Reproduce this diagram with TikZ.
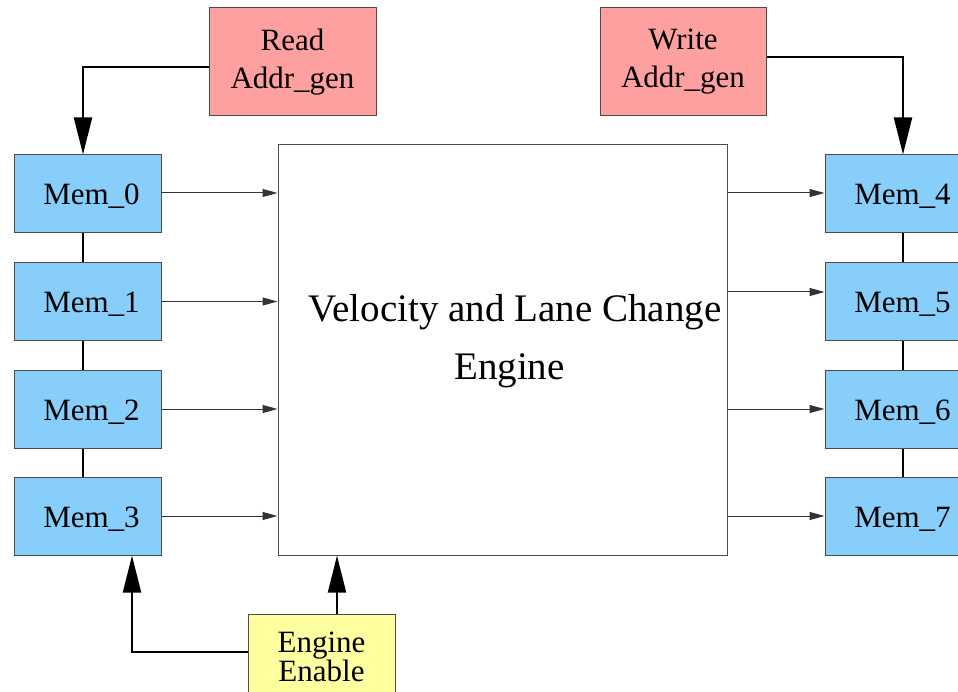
\documentclass[tikz,border=0pt]{standalone}
\usepackage{fontspec}
\setmainfont{Liberation Serif}
\usetikzlibrary{arrows.meta}
\definecolor{memblue}{RGB}{135,206,250}
\definecolor{addrred}{RGB}{255,160,160}
\definecolor{enyellow}{RGB}{255,255,160}
\tikzset{
  box/.style={draw=black!70, line width=1pt, rectangle, inner sep=0pt, align=center,
              font=\fontsize{31}{38}\selectfont},
  membox/.style={box, fill=memblue, minimum width=147pt, minimum height=78pt,
                 text height=26pt, text depth=4pt,
                 execute at begin node=\hspace*{8pt}},
  addrbox/.style={box, fill=addrred, minimum width=167pt, minimum height=108pt},
  enbox/.style={box, fill=enyellow, minimum width=147pt, minimum height=86pt,
                font=\fontsize{31}{29}\selectfont},
  bigarrow/.style={line width=2pt, -{Triangle[length=37pt,width=18pt]}},
  thinarrow/.style={line width=1pt, draw=black!80, -{Triangle[length=15pt,width=8pt]}},
  link/.style={line width=2pt},
}
\begin{document}
\begin{tikzpicture}[x=1pt,y=-1pt]
\useasboundingbox (0,0) rectangle (958,692);
\clip (0,0) rectangle (958,692);

% central engine
\node[draw=black!70, line width=1pt, rectangle, minimum width=449pt, minimum height=410pt, inner sep=0pt]
  (eng) at (502.5,350) {};
\node[font=\fontsize{39}{58}\selectfont, align=center, inner sep=0pt] (engtxt) at (515,341)
  {Velocity and Lane Change\\Engine\hspace*{11pt}};

% address generators
\node[addrbox] (rd) at (292.5,62) {Read\\Addr\_gen};
\node[addrbox, minimum width=166pt] (wr) at (683,62) {Write\\Addr\_gen};

% memories
\node[membox] (m0) at (87.5,194) {Mem\_0};
\node[membox] (m1) at (87.5,301.5) {Mem\_1};
\node[membox] (m2) at (87.5,409) {Mem\_2};
\node[membox] (m3) at (87.5,516) {Mem\_3};
\node[membox] (m4) at (898.5,194) {Mem\_4};
\node[membox] (m5) at (898.5,301.5) {Mem\_5};
\node[membox] (m6) at (898.5,409) {Mem\_6};
\node[membox] (m7) at (898.5,516) {Mem\_7};

% engine enable (its lower edge runs past the page)
\node[enbox] (en) at (321.5,657) {Engine\\Enable};

% memory chains
\draw[link] ([xshift=-4.5pt]m0.south) -- ([xshift=-4.5pt]m1.north);
\draw[link] ([xshift=-4.5pt]m1.south) -- ([xshift=-4.5pt]m2.north);
\draw[link] ([xshift=-4.5pt]m2.south) -- ([xshift=-4.5pt]m3.north);
\draw[link] ([xshift=4.5pt]m4.south) -- ([xshift=4.5pt]m5.north);
\draw[link] ([xshift=4.5pt]m5.south) -- ([xshift=4.5pt]m6.north);
\draw[link] ([xshift=4.5pt]m6.south) -- ([xshift=4.5pt]m7.north);

% address arrows
\draw[bigarrow] ([yshift=-5pt]rd.west) -| ([xshift=-4.5pt]m0.north);
\draw[bigarrow] ([yshift=5pt]wr.east) -| ([xshift=4.5pt]m4.north);

% enable arrows
\draw[bigarrow] ([yshift=5pt]en.west) -| ([xshift=44.5pt]m3.south);
\draw[bigarrow] ([xshift=15.5pt]en.north) -- ([xshift=15.5pt]en.north |- eng.south);

% data into the engine
\draw[thinarrow] ([yshift=1pt]m0.east) -- ([yshift=1pt]m0.east -| eng.west);
\draw[thinarrow] (m1.east) -- (m1.east -| eng.west);
\draw[thinarrow] (m2.east) -- (m2.east -| eng.west);
\draw[thinarrow] (m3.east) -- (m3.east -| eng.west);

% data out of the engine
\draw[thinarrow] ([yshift=1pt]m4.west -| eng.east) -- ([yshift=1pt]m4.west);
\draw[thinarrow] ([yshift=9.5pt]m5.west -| eng.east) -- ([yshift=9.5pt]m5.west);
\draw[thinarrow] (m6.west -| eng.east) -- (m6.west);
\draw[thinarrow] (m7.west -| eng.east) -- (m7.west);
\end{tikzpicture}
\end{document}
